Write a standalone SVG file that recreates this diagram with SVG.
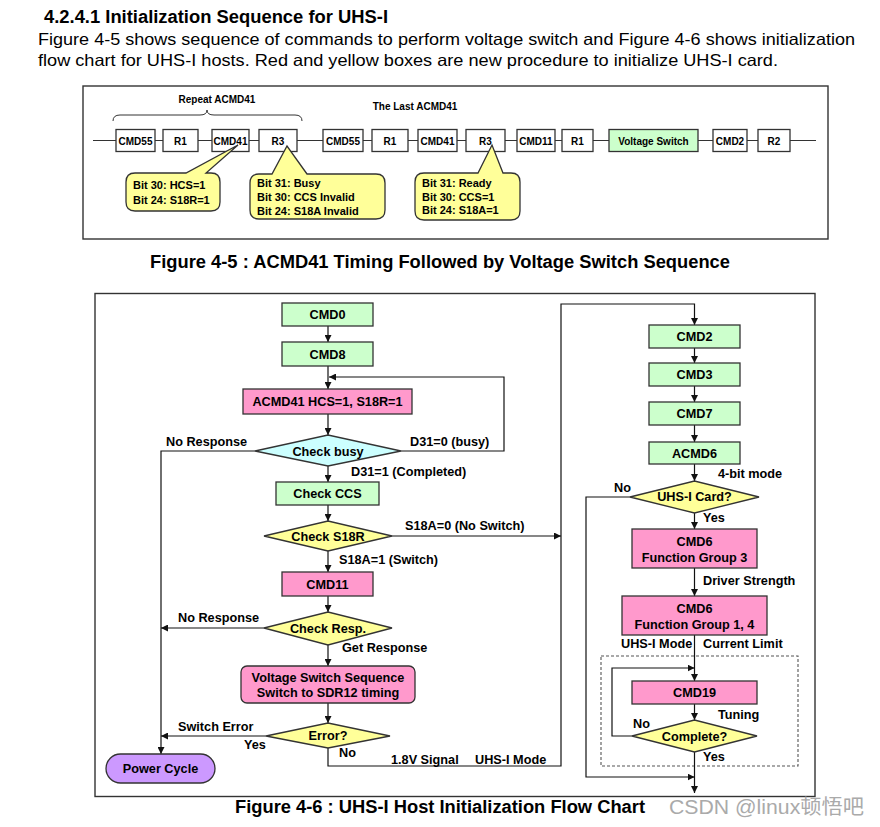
<svg xmlns="http://www.w3.org/2000/svg" width="880" height="827" viewBox="0 0 880 827">
<defs>
<style>
text { font-family: "Liberation Sans", Arial, sans-serif; fill: #000; }
.b { font-weight: bold; font-size: 12.7px; }
.s { font-weight: bold; font-size: 10px; text-anchor: middle; }
.k { font-weight: bold; font-size: 11px; }
.c { text-anchor: middle; }
.n { stroke: #333; stroke-width: 1.3; }
.w { fill: #fff; }
.g { fill: #ccffcc; }
.p { fill: #ff99cc; }
.y { fill: #ffff99; }
.cy { fill: #ccffff; }
.pu { fill: #cc99ff; }
.ln { fill: none; stroke: #111; stroke-width: 1.2; }
</style>
<marker id="a" viewBox="0 0 10 10" refX="10" refY="5" markerWidth="7" markerHeight="7" markerUnits="userSpaceOnUse" orient="auto">
<path d="M0,0 L10,5 L0,10 z" fill="#111"/>
</marker>
</defs>
<rect width="880" height="827" fill="#fff"/>

<!-- header -->
<text x="44" y="23" font-weight="bold" font-size="18" textLength="344" lengthAdjust="spacingAndGlyphs">4.2.4.1 Initialization Sequence for UHS-I</text>
<text x="38" y="45" font-size="16.5" textLength="817" lengthAdjust="spacingAndGlyphs">Figure 4-5 shows sequence of commands to perform voltage switch and Figure 4-6 shows initialization</text>
<text x="38" y="66" font-size="16.5" textLength="740" lengthAdjust="spacingAndGlyphs">flow chart for UHS-I hosts. Red and yellow boxes are new procedure to initialize UHS-I card.</text>

<!-- Figure 4-5 -->
<rect x="83" y="86" width="745" height="153" fill="none" stroke="#333" stroke-width="1.4"/>
<text x="217" y="103" class="s">Repeat ACMD41</text>
<text x="415" y="110" class="s">The Last ACMD41</text>
<path d="M113,121 Q113,115 120,115 L200,115 Q207,115 207,110 Q207,115 214,115 L295,115 Q302,115 302,121" fill="none" stroke="#333" stroke-width="1"/>

<g id="seq-connectors">
<line x1="93" y1="140.5" x2="816" y2="140.5" stroke="#333" stroke-width="1.1"/>
</g>
<g id="s-cmd55a"><rect class="n w" x="116" y="129.5" width="39" height="22"/><text class="s" x="135.5" y="144.5">CMD55</text></g>
<g id="s-r1a"><rect class="n w" x="163" y="129.5" width="35" height="22"/><text class="s" x="180.5" y="144.5">R1</text></g>
<g id="s-cmd41a"><rect class="n w" x="212" y="129.5" width="37" height="22"/><text class="s" x="230.5" y="144.5">CMD41</text></g>
<g id="s-r3a"><rect class="n w" x="259" y="129.5" width="38" height="22"/><text class="s" x="278" y="144.5">R3</text></g>
<g id="s-cmd55b"><rect class="n w" x="323" y="129.5" width="40" height="22"/><text class="s" x="343" y="144.5">CMD55</text></g>
<g id="s-r1b"><rect class="n w" x="372" y="129.5" width="36" height="22"/><text class="s" x="390" y="144.5">R1</text></g>
<g id="s-cmd41b"><rect class="n w" x="418" y="129.5" width="39" height="22"/><text class="s" x="437.5" y="144.5">CMD41</text></g>
<g id="s-r3b"><rect class="n w" x="466" y="129.5" width="39" height="22"/><text class="s" x="485.5" y="144.5">R3</text></g>
<g id="s-cmd11"><rect class="n w" x="517" y="129.5" width="38" height="22"/><text class="s" x="536" y="144.5">CMD11</text></g>
<g id="s-r1c"><rect class="n w" x="562" y="129.5" width="31" height="22"/><text class="s" x="577.5" y="144.5">R1</text></g>
<g id="s-vs"><rect class="n g" x="609" y="129.5" width="89" height="22"/><text class="s" x="653.5" y="144.5">Voltage Switch</text></g>
<g id="s-cmd2"><rect class="n w" x="713" y="129.5" width="34" height="22"/><text class="s" x="730" y="144.5">CMD2</text></g>
<g id="s-r2"><rect class="n w" x="758" y="129.5" width="32" height="22"/><text class="s" x="774" y="144.5">R2</text></g>

<g id="callout1">
<path class="n y" d="M135,173 L186,173 L238,145 L206,173 L211,173 Q220,173 220,182 L220,202 Q220,211 211,211 L135,211 Q126,211 126,202 L126,182 Q126,173 135,173 Z"/>
<text class="k" x="133" y="189">Bit 30: HCS=1</text>
<text class="k" x="133" y="204">Bit 24: S18R=1</text>
</g>
<g id="callout2">
<path class="n y" d="M259,174 L272,174 L287,146 L307,174 L376,174 Q385,174 385,183 L385,210 Q385,219 376,219 L259,219 Q250,219 250,210 L250,183 Q250,174 259,174 Z"/>
<text class="k" x="257" y="187">Bit 31: Busy</text>
<text class="k" x="257" y="201">Bit 30: CCS Invalid</text>
<text class="k" x="257" y="215">Bit 24: S18A Invalid</text>
</g>
<g id="callout3">
<path class="n y" d="M424,173 L478,173 L492,145 L503,173 L511,173 Q520,173 520,182 L520,211 Q520,220 511,220 L424,220 Q415,220 415,211 L415,182 Q415,173 424,173 Z"/>
<text class="k" x="422" y="187">Bit 31: Ready</text>
<text class="k" x="422" y="200.5">Bit 30: CCS=1</text>
<text class="k" x="422" y="214">Bit 24: S18A=1</text>
</g>

<text x="150" y="268" font-weight="bold" font-size="18" textLength="580" lengthAdjust="spacingAndGlyphs">Figure 4-5 : ACMD41 Timing Followed by Voltage Switch Sequence</text>

<!-- Figure 4-6 -->
<rect x="95" y="293.5" width="720" height="503" fill="none" stroke="#333" stroke-width="1.4"/>
<rect x="601" y="656" width="197" height="110" fill="none" stroke="#555" stroke-width="1.1" stroke-dasharray="3,2"/>

<g id="connectors">
<path class="ln" d="M328,326 V342" marker-end="url(#a)"/>
<path class="ln" d="M328,366 V389" marker-end="url(#a)"/>
<path class="ln" d="M401,451 H504 V377 H329" marker-end="url(#a)"/>
<path class="ln" d="M328,414 V435" marker-end="url(#a)"/>
<path class="ln" d="M255,451 H161 V754" marker-end="url(#a)"/>
<path class="ln" d="M328,466 V482" marker-end="url(#a)"/>
<path class="ln" d="M328,505 V521" marker-end="url(#a)"/>
<path class="ln" d="M392,536 H561" marker-end="url(#a)"/>
<path class="ln" d="M328,551 V572" marker-end="url(#a)"/>
<path class="ln" d="M328,596 V612" marker-end="url(#a)"/>
<path class="ln" d="M264,628 H161" marker-end="url(#a)"/>
<path class="ln" d="M328,645 V666" marker-end="url(#a)"/>
<path class="ln" d="M328,703 V723" marker-end="url(#a)"/>
<path class="ln" d="M266,736 H161" marker-end="url(#a)"/>
<path class="ln" d="M328,748 V766 H561 V304 H694.5 V325" marker-end="url(#a)"/>
<path class="ln" d="M694.5,348 V363" marker-end="url(#a)"/>
<path class="ln" d="M694.5,386 V402" marker-end="url(#a)"/>
<path class="ln" d="M694.5,425 V442" marker-end="url(#a)"/>
<path class="ln" d="M694.5,464 V481" marker-end="url(#a)"/>
<path class="ln" d="M630,497 H586 V777 H694.5" marker-end="url(#a)"/>
<path class="ln" d="M694.5,513 V529" marker-end="url(#a)"/>
<path class="ln" d="M694.5,568 V596" marker-end="url(#a)"/>
<path class="ln" d="M694.5,635 V681" marker-end="url(#a)"/>
<path class="ln" d="M632,736 H612 V668 H694.5" marker-end="url(#a)"/>
<path class="ln" d="M694.5,704 V720" marker-end="url(#a)"/>
<path class="ln" d="M694.5,752 V793" marker-end="url(#a)"/>
</g>

<g id="labels">
<text class="b" x="166" y="446">No Response</text>
<text class="b" x="410" y="446">D31=0 (busy)</text>
<text class="b" x="351" y="476">D31=1 (Completed)</text>
<text class="b" x="405" y="530">S18A=0 (No Switch)</text>
<text class="b" x="339" y="564">S18A=1 (Switch)</text>
<text class="b" x="178" y="622">No Response</text>
<text class="b" x="342" y="652">Get Response</text>
<text class="b" x="178" y="731">Switch Error</text>
<text class="b" x="244" y="749">Yes</text>
<text class="b" x="339" y="757">No</text>
<text class="b" x="391" y="764">1.8V Signal</text>
<text class="b" x="475" y="764">UHS-I Mode</text>
<text class="b" x="718" y="478">4-bit mode</text>
<text class="b" x="614" y="492">No</text>
<text class="b" x="703" y="522">Yes</text>
<text class="b" x="703" y="585">Driver Strength</text>
<text class="b" x="621" y="648">UHS-I Mode</text>
<text class="b" x="703" y="648">Current Limit</text>
<text class="b" x="718" y="719">Tuning</text>
<text class="b" x="633" y="728">No</text>
<text class="b" x="703" y="761">Yes</text>
</g>

<g id="cmd0"><rect class="n g" x="282" y="303" width="91" height="23"/><text class="b c" x="327.5" y="319">CMD0</text></g>
<g id="cmd8"><rect class="n g" x="282" y="342" width="91" height="24"/><text class="b c" x="327.5" y="358.5">CMD8</text></g>
<g id="acmd41"><rect class="n p" x="243" y="389" width="169" height="25"/><text class="b c" x="327.5" y="406">ACMD41 HCS=1, S18R=1</text></g>
<g id="check-busy"><polygon class="n cy" points="255,451 328,435 401,451 328,466"/><text class="b c" x="328" y="455.5">Check busy</text></g>
<g id="check-ccs"><rect class="n g" x="276" y="482" width="103" height="23"/><text class="b c" x="327.5" y="498">Check CCS</text></g>
<g id="check-s18r"><polygon class="n y" points="264,536 328,521 392,536 328,551"/><text class="b c" x="328" y="540.5">Check S18R</text></g>
<g id="cmd11"><rect class="n p" x="282" y="572" width="91" height="24"/><text class="b c" x="327.5" y="588.5">CMD11</text></g>
<g id="check-resp"><polygon class="n y" points="264,628 328,612 392,628 328,645"/><text class="b c" x="328" y="633">Check Resp.</text></g>
<g id="vs-seq"><rect class="n p" x="241" y="666" width="174" height="37" rx="6"/><text class="b c" x="328" y="682">Voltage Switch Sequence</text><text class="b c" x="328" y="697">Switch to SDR12 timing</text></g>
<g id="error"><polygon class="n y" points="266,736 328,723 390,736 328,748"/><text class="b c" x="328" y="740">Error?</text></g>
<g id="power-cycle"><rect class="n pu" x="106" y="754" width="109" height="29" rx="14.5"/><text class="b c" x="160.5" y="773">Power Cycle</text></g>

<g id="cmd2"><rect class="n g" x="649" y="325" width="91" height="23"/><text class="b c" x="694.5" y="341">CMD2</text></g>
<g id="cmd3"><rect class="n g" x="649" y="363" width="91" height="23"/><text class="b c" x="694.5" y="379">CMD3</text></g>
<g id="cmd7"><rect class="n g" x="649" y="402" width="91" height="23"/><text class="b c" x="694.5" y="418">CMD7</text></g>
<g id="acmd6"><rect class="n g" x="649" y="442" width="91" height="22"/><text class="b c" x="694.5" y="458">ACMD6</text></g>
<g id="uhs-card"><polygon class="n y" points="630,497 694.5,481 759,497 694.5,513"/><text class="b c" x="694.5" y="501">UHS-I Card?</text></g>
<g id="cmd6-fg3"><rect class="n p" x="632" y="529" width="125" height="39"/><text class="b c" x="694.5" y="545.5">CMD6</text><text class="b c" x="694.5" y="562">Function Group 3</text></g>
<g id="cmd6-fg14"><rect class="n p" x="622" y="596" width="145" height="39"/><text class="b c" x="694.5" y="612.5">CMD6</text><text class="b c" x="694.5" y="628.5">Function Group 1, 4</text></g>
<g id="cmd19"><rect class="n p" x="632" y="681" width="125" height="23"/><text class="b c" x="694.5" y="697">CMD19</text></g>
<g id="complete"><polygon class="n y" points="632,736 694.5,720 757,736 694.5,752"/><text class="b c" x="694.5" y="740.5">Complete?</text></g>

<text x="235" y="813" font-weight="bold" font-size="18" textLength="410" lengthAdjust="spacingAndGlyphs">Figure 4-6 : UHS-I Host Initialization Flow Chart</text>
<text x="669" y="814" font-size="20" textLength="195" lengthAdjust="spacingAndGlyphs" style="font-family:'Liberation Sans','Noto Sans CJK SC',sans-serif;fill:#aaa">CSDN @linux顿悟吧</text>
</svg>
